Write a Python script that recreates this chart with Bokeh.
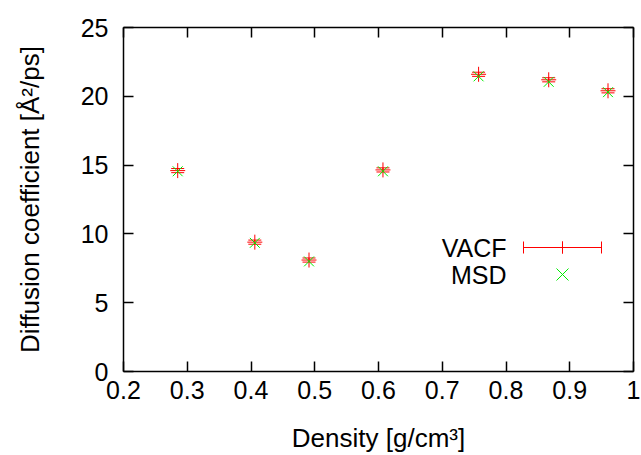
from bokeh.plotting import figure
from bokeh.models import (Whisker, TeeHead, ColumnDataSource, LinearAxis, FixedTicker,
                          Label, Arrow, Range1d)
from bokeh.embed import file_html
from bokeh.resources import INLINE

density = [0.285, 0.406, 0.491, 0.607, 0.757, 0.867, 0.960]
vacf = [14.6, 9.4, 8.1, 14.65, 21.6, 21.2, 20.4]
vacf_err = [0.15, 0.15, 0.15, 0.15, 0.15, 0.15, 0.15]
msd = [14.55, 9.35, 8.0, 14.55, 21.45, 21.05, 20.3]
x_ticks = [0.2, 0.3, 0.4, 0.5, 0.6, 0.7, 0.8, 0.9, 1.0]
y_ticks = [0, 5, 10, 15, 20, 25]
xlabel = "Density [g/cm³]"
ylabel = "Diffusion coefficient [Å²/ps]"
series_names = ["VACF", "MSD"]

FONT = "Liberation Sans"
FS = "25px"
FS_LABEL = "26px"
RED = "#ff0000"
GREEN = "#00ee00"

W, H = 641, 455
p = figure(width=W, height=H, output_backend="svg", toolbar_location=None,
           x_range=Range1d(0.2, 1.0), y_range=Range1d(0, 25),
           min_border_left=123, min_border_right=8, min_border_top=27, min_border_bottom=84)
p.xgrid.visible = False
p.ygrid.visible = False
p.outline_line_color = None

lower = [v - e for v, e in zip(vacf, vacf_err)]
upper = [v + e for v, e in zip(vacf, vacf_err)]
src = ColumnDataSource(dict(x=density, y=vacf, lo=lower, hi=upper, msd=msd))

wh = Whisker(source=src, base="x", lower="lo", upper="hi", dimension="height",
             line_color=RED, line_width=1,
             lower_head=TeeHead(size=13, line_color=RED, line_width=1),
             upper_head=TeeHead(size=13, line_color=RED, line_width=1))
p.add_layout(wh)
p.scatter("x", "y", source=src, marker="cross", size=15, line_color=RED, line_width=1)
p.scatter("x", "msd", source=src, marker="x", size=14, line_color=GREEN, line_width=1)

top = LinearAxis()
right = LinearAxis()
p.add_layout(top, "above")
p.add_layout(right, "right")

for ax in p.xaxis:
    ax.ticker = FixedTicker(ticks=x_ticks)
for ax in p.yaxis:
    ax.ticker = FixedTicker(ticks=y_ticks)
for ax in list(p.xaxis) + list(p.yaxis):
    ax.minor_tick_line_color = None
    ax.major_tick_in = 10
    ax.major_tick_out = 0
    ax.axis_line_color = "black"
    ax.axis_line_width = 1.5
    ax.major_tick_line_width = 1.5
    ax.major_tick_line_color = "black"
    ax.major_label_text_font = FONT
    ax.major_label_text_font_size = FS
    ax.major_label_text_color = "black"
    ax.axis_label_text_font = FONT
    ax.axis_label_text_font_size = FS_LABEL
    ax.axis_label_text_font_style = "normal"
    ax.axis_label_text_color = "black"

top.major_label_overrides = {t: "" for t in x_ticks}
right.major_label_overrides = {t: "" for t in y_ticks}
top.major_label_standoff = 0
right.major_label_standoff = 0

bottom = p.below[0]
left = p.left[0]
bottom.axis_label = xlabel
left.axis_label = ylabel
bottom.major_label_overrides = {1.0: "1"}
bottom.major_label_standoff = 9
left.major_label_standoff = 15
bottom.axis_label_standoff = 21
left.axis_label_standoff = 33

# gnuplot-style key (label then sample); screen units relative to the plot frame
key_right = 383
key_y = [124, 97]
for name, yy in zip(series_names, key_y):
    p.add_layout(Label(x=key_right, y=yy, x_units="screen", y_units="screen",
                       text=name, text_align="right", text_baseline="middle",
                       text_font=FONT, text_font_size=FS, text_color="black"))

x0, xm, x1 = 400, 439, 478
for a, b in ((x0, xm), (xm, x1)):
    p.add_layout(Arrow(x_start=a, y_start=key_y[0], x_end=b, y_end=key_y[0],
                       start_units="screen", end_units="screen",
                       start=TeeHead(size=12, line_color=RED, line_width=1),
                       end=TeeHead(size=12, line_color=RED, line_width=1),
                       line_color=RED, line_width=1))
d = 6
for (ax_, ay_, bx_, by_) in ((xm - d, key_y[1] - d, xm + d, key_y[1] + d),
                             (xm - d, key_y[1] + d, xm + d, key_y[1] - d)):
    p.add_layout(Arrow(x_start=ax_, y_start=ay_, x_end=bx_, y_end=by_,
                       start_units="screen", end_units="screen", start=None, end=None,
                       line_color=GREEN, line_width=1))

open("out.html", "w").write(file_html(p, INLINE))
